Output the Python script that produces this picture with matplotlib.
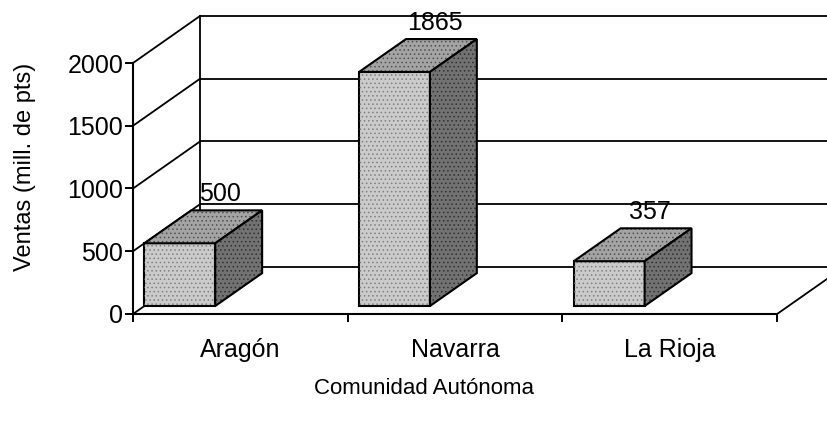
import numpy as np
import matplotlib.pyplot as plt
from matplotlib.patches import Polygon

plt.rcParams['font.family'] = ['Liberation Sans', 'DejaVu Sans']
plt.rcParams['hatch.linewidth'] = 0.6

# Ventas por comunidad autónoma (millones de pesetas)
comunidades = ['Aragón', 'Navarra', 'La Rioja']
ventas = [500, 1865, 357]
y_ticks = [0, 500, 1000, 1500, 2000]

# oblique "3D" depth vector in data units and bar placement inside the depth
DX, DY = 0.312, 374.5
f0, f1 = 0.17, 0.87
bar_w = 0.33

front_col = '#cbcbcb'
top_col = '#a4a4a4'
side_col = '#727272'


def face(ax, pts, color, grain):
    # flat grey face with a fine dotted grain on top, then the black outline
    ax.add_patch(Polygon(pts, closed=True, facecolor=color, edgecolor='none', zorder=3))
    ax.add_patch(Polygon(pts, closed=True, facecolor='none', edgecolor=grain,
                         hatch='....', lw=0, zorder=3))
    ax.add_patch(Polygon(pts, closed=True, facecolor='none', edgecolor='black',
                         lw=1.5, zorder=3))


fig = plt.figure(figsize=(8.27, 4.22), dpi=100)
ax = fig.add_axes([0, 0, 1, 1])
ax.set_xlim(-0.6195, 3.2324)
ax.set_ylim(-860.6, 2502)

n = len(comunidades)
ymax = y_ticks[-1]

# back wall: left edge plus gridlines
ax.plot([DX, DX], [DY, ymax + DY], color='black', lw=1.3, zorder=1)
for v in y_ticks:
    ax.plot([DX, n + DX + 1], [v + DY, v + DY], color='black', lw=1.3, zorder=1)
    # side wall lines running from the value axis to the back wall
    ax.plot([0, DX], [v, v + DY], color='black', lw=1.3, zorder=1)

# floor right edge
ax.plot([n, n + DX], [0, DY], color='black', lw=1.3, zorder=1)

# bars: front face through ax.bar, top and side as projected polygons
pos = np.arange(n)
bars = ax.bar(pos + f0 * DX, ventas, width=bar_w, bottom=f0 * DY, align='edge',
              color=front_col, edgecolor='black', linewidth=1.5, zorder=3)
for b in bars:
    ax.add_patch(Polygon(b.get_corners(), closed=True, facecolor='none',
                         edgecolor='#808080', hatch='....', lw=0, zorder=3))

ddx = (f1 - f0) * DX
ddy = (f1 - f0) * DY
for x, v in zip(pos, ventas):
    xl = x + f0 * DX
    xr = xl + bar_w
    yb = f0 * DY
    yt = v + f0 * DY
    face(ax, [(xl, yt), (xr, yt), (xr + ddx, yt + ddy), (xl + ddx, yt + ddy)],
         top_col, '#505050')
    face(ax, [(xr, yb), (xr + ddx, yb + ddy), (xr + ddx, yt + ddy), (xr, yt)],
         side_col, '#303030')
    ax.text(xl + bar_w / 2 + ddx / 2 + 0.08, yt + ddy + 35, str(v),
            ha='center', va='bottom', fontsize=18, zorder=4)

# front axes
for s in ['top', 'right']:
    ax.spines[s].set_visible(False)
ax.spines['left'].set_position(('data', 0))
ax.spines['left'].set_bounds(0, ymax)
ax.spines['bottom'].set_position(('data', 0))
ax.spines['bottom'].set_bounds(0, n)
for s in ['left', 'bottom']:
    ax.spines[s].set_linewidth(1.5)
    ax.spines[s].set_zorder(2)

ax.set_yticks(y_ticks)
ax.set_yticklabels([str(t) for t in y_ticks])
ax.tick_params(axis='y', direction='out', length=6, width=1.4, pad=1, labelsize=18)

ax.set_xticks(np.arange(n + 1))
ax.set_xticklabels([])
ax.set_xticks(pos + 0.5, minor=True)
ax.set_xticklabels(comunidades, minor=True)
ax.tick_params(axis='x', which='major', direction='out', length=6, width=1.4)
ax.tick_params(axis='x', which='minor', length=0, pad=17, labelsize=18)

ax.set_ylabel('Ventas (mill. de pts)', fontsize=17)
ax.yaxis.set_label_coords(0.043, 0.604)
ax.set_xlabel('Comunidad Autónoma', fontsize=16)
ax.xaxis.set_label_coords(0.513, 0.105)

fig.savefig('out.png', dpi=100)
